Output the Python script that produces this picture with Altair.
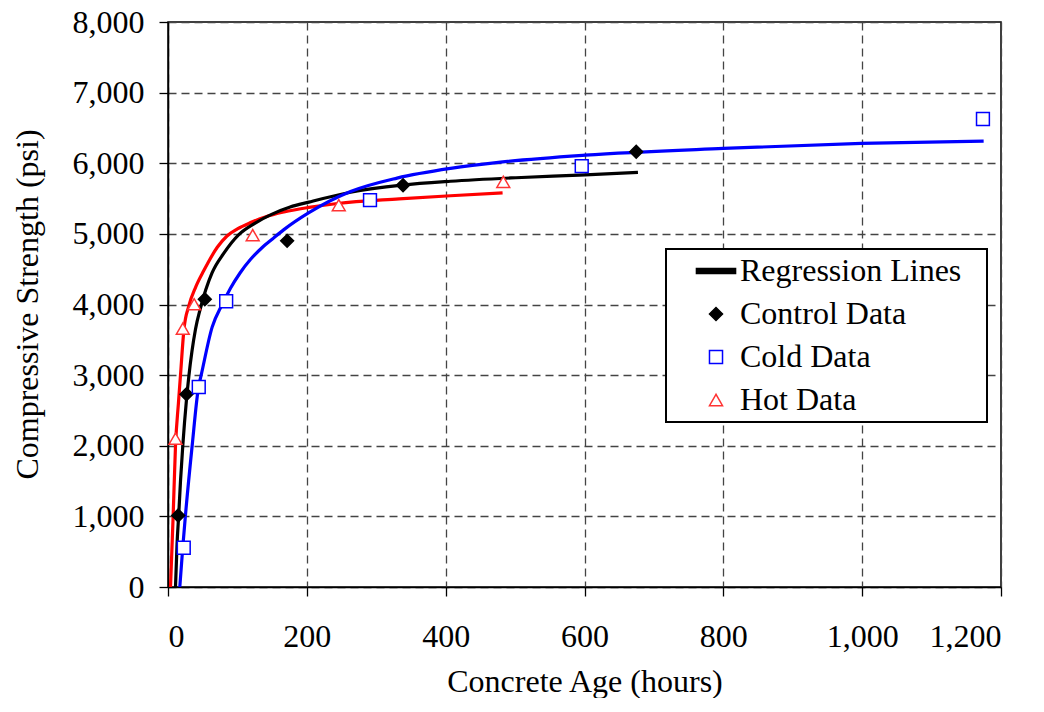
import altair as alt
import pandas as pd

# ---- data ----
series_names = ["Regression Lines", "Control Data", "Cold Data", "Hot Data"]

control_x = [14.7, 26.6, 53, 171.6, 338.6, 674.5]
control_y = [1013, 2728, 4075, 4901, 5690, 6162]

cold_x = [22.7, 44.3, 83.8, 291, 596, 1174]
cold_y = [556, 2832, 4046, 5478, 5960, 6626]

hot_x = [10.8, 21.3, 37.7, 122, 246, 483]
hot_y = [2100, 3659, 4004, 4982, 5407, 5737]

# regression curves
control_fit_x = [10.8, 13, 15.6, 18, 21.3, 26.6, 30, 39.6, 46.8, 63.6, 80, 102, 125, 150, 176, 203, 263, 337, 407, 501, 601, 677]
control_fit_y = [0, 600, 1050, 1500, 2000, 2650, 2980, 3650, 3950, 4450, 4720, 4990, 5150, 5280, 5380, 5450, 5590, 5690, 5745, 5795, 5835, 5870]

cold_fit_x = [17, 21.3, 25, 34.8, 44, 47.8, 63.6, 78, 90, 104, 119, 135, 152, 167, 203, 263, 330, 407, 479, 601, 800, 999, 1175]
cold_fit_y = [0, 564, 1000, 2000, 2832, 3000, 3680, 4000, 4230, 4450, 4640, 4800, 4940, 5060, 5300, 5600, 5790, 5927, 6016, 6115, 6210, 6281, 6314]

hot_fit_x = [3.6, 7.4, 10.8, 15, 18, 23, 30, 40, 51.6, 71, 85, 100, 119, 140, 167, 203, 244, 333, 407, 482]
hot_fit_y = [0, 1000, 2000, 2600, 3000, 3650, 3980, 4250, 4480, 4810, 4970, 5070, 5160, 5240, 5310, 5375, 5430, 5495, 5540, 5580]

x_ticks = [0, 200, 400, 600, 800, 1000, 1200]
y_ticks = [0, 1000, 2000, 3000, 4000, 5000, 6000, 7000, 8000]

FONT = "Liberation Serif"
FS = 32

points = pd.concat([
    pd.DataFrame({"age": control_x, "strength": control_y, "series": "Control Data"}),
    pd.DataFrame({"age": cold_x, "strength": cold_y, "series": "Cold Data"}),
    pd.DataFrame({"age": hot_x, "strength": hot_y, "series": "Hot Data"}),
], ignore_index=True)

x_enc = alt.X("age:Q", scale=alt.Scale(domain=[0, 1200], nice=False),
              axis=alt.Axis(values=x_ticks, format=",d", title="Concrete Age (hours)",
                            titleBaseline="alphabetic", titleY=104, titleX=416.5,
                            labelPadding=25))
y_enc = alt.Y("strength:Q", scale=alt.Scale(domain=[0, 8000], nice=False),
              axis=alt.Axis(values=y_ticks, format=",d", title="Compressive Strength (psi)",
                            titleBaseline="alphabetic", titleX=-131, titleY=282, titleAngle=270,
                            labelPadding=15))


def fit_line(xs, ys, color):
    df = pd.DataFrame({"age": xs, "strength": ys})
    return alt.Chart(df).mark_line(color=color, strokeWidth=3.2, interpolate="monotone").encode(
        x=x_enc, y=y_enc)


hot_line = fit_line(hot_fit_x, hot_fit_y, "#ff0000")
control_line = fit_line(control_fit_x, control_fit_y, "#000000")
cold_line = fit_line(cold_fit_x, cold_fit_y, "#0000ff")

line_symbol = "M-3,-0.4H3V0.4H-3Z"

legend = alt.Legend(title="\u00a0", titleOrient="right", titlePadding=20, titleFontSize=8,
                    orient="none", legendX=498, legendY=227,
                    labelFont=FONT, labelFontSize=FS, labelColor="black", labelLimit=600,
                    padding=6, symbolOffset=28, labelOffset=8, rowPadding=11,
                    symbolSize=170, symbolStrokeWidth=1.5,
                    strokeColor="black", fillColor="white")

pts = alt.Chart(points).mark_point(filled=False, opacity=1, size=165, strokeWidth=1.5).encode(
    x=x_enc, y=y_enc,
    shape=alt.Shape("series:N", scale=alt.Scale(domain=series_names,
                    range=[line_symbol, "diamond", "square", "triangle-up"]), legend=legend),
    stroke=alt.Stroke("series:N", scale=alt.Scale(domain=series_names,
                      range=["#000000", "#000000", "#0000ff", "#ff3333"]), legend=legend),
    fill=alt.Fill("series:N", scale=alt.Scale(domain=series_names,
                  range=["#000000", "#000000", "#ffffff", "#ffffff"]), legend=legend),
)

chart = alt.layer(hot_line, control_line, cold_line, pts).properties(
    width=833, height=565,
    padding={"left": 160, "top": 14, "right": 35, "bottom": 111},
    autosize=alt.AutoSizeParams(type="none"),
).configure_view(
    stroke="black", strokeWidth=1.5
).configure_axis(
    labelFont=FONT, labelFontSize=FS, labelColor="black",
    titleFont=FONT, titleFontSize=FS, titleColor="black", titleFontWeight="normal",
    domainColor="black", domainWidth=1.5,
    tickColor="black", tickSize=9, tickWidth=1.3,
    grid=True, gridColor="#444444", gridDash=[8, 5], gridWidth=1.3, gridOpacity=1,
).configure_legend(
    strokeWidth=2
)

chart.save("out.html", embed_options={"renderer": "svg", "actions": False})
